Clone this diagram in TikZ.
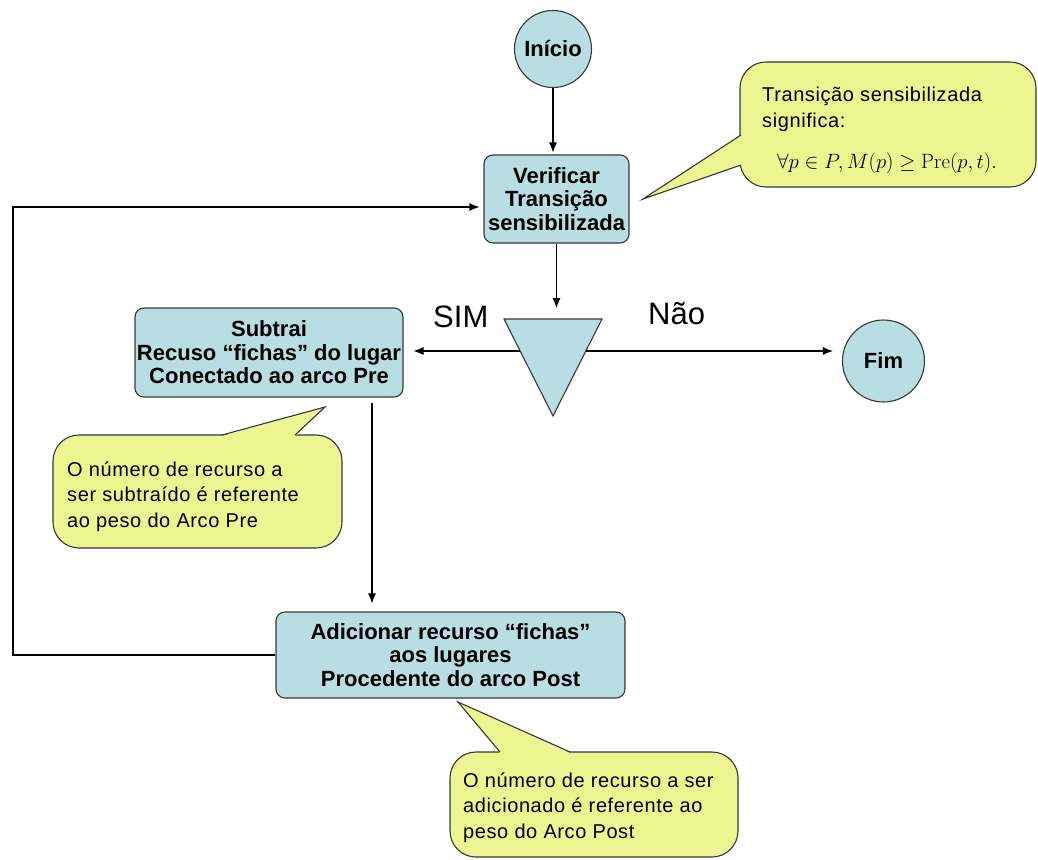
\documentclass[tikz,border=0pt]{standalone}
\usepackage[no-math]{fontspec}
\setmainfont{Liberation Sans}
\newfontfamily\notefont[LetterSpace=3]{Liberation Sans}
\usetikzlibrary{arrows.meta}
\definecolor{boxfill}{RGB}{184,222,227}
\definecolor{notefill}{RGB}{236,245,144}
\definecolor{edge}{RGB}{55,55,55}
\begin{document}
\begin{tikzpicture}[x=1pt,y=-1pt,
  flow/.style={draw=edge, line width=1.1pt, fill=boxfill},
  stepbox/.style={flow, rounded corners=9pt, align=center, inner sep=0pt,
    font=\fontsize{22}{23.5}\selectfont\bfseries},
  endpoint/.style={flow, circle, inner sep=0pt, font=\fontsize{22}{24}\selectfont\bfseries},
  link/.style={draw=black, line width=1.1pt, -{Latex[length=10pt,width=8pt]}},
  note/.style={draw=edge, line width=1.1pt, fill=notefill, rounded corners=26pt},
  noteedge/.style={draw=edge, line width=1.1pt, line join=miter},
  notetext/.style={anchor=base west, align=left, inner sep=0pt,
    font=\notefont\fontsize{20}{25.5}\selectfont},
  answer/.style={anchor=base west, inner sep=0pt, font=\fontsize{31}{31}\selectfont}
]
\useasboundingbox (0,0) rectangle (1038,859);

% callout shapes (drawn first, below the flow)
\draw[note] (740,62) rectangle (1036,187);
\fill[notefill] (741,135) -- (643,199) -- (741,165) -- (748,165) -- (748,135) -- cycle;
\draw[noteedge] (741,135) -- (643,199) -- (741,165);

\draw[note] (53,435) rectangle (342,548);
\fill[notefill] (222,436) -- (325,407) -- (295,436) -- (295,442) -- (222,442) -- cycle;
\draw[noteedge] (222,435) -- (325,407) -- (295,435);

\draw[note] (450,752) rectangle (738,857);
\fill[notefill] (500,753) -- (458,702) -- (570,753) -- (570,759) -- (500,759) -- cycle;
\draw[noteedge] (500,752) -- (458,702) -- (570,752);

% flow elements
\node[endpoint, minimum size=77pt] (inicio) at (553,49) {Início};
\node[stepbox, minimum width=145pt, minimum height=88pt] (verif) at (556.5,199)
  {Verificar\\Transição\\sensibilizada};
\node[stepbox, minimum width=268pt, minimum height=89pt] (sub) at (269,352.5)
  {Subtrai\\Recuso “fichas” do lugar\\Conectado ao arco Pre};
\node[stepbox, minimum width=349pt, minimum height=86pt] (add) at (450.5,655)
  {Adicionar recurso “fichas”\\aos lugares\\Procedente do arco Post};
\node[endpoint, minimum size=82pt] (fim) at (883.5,361) {Fim};

% decision triangle
\coordinate (triA) at (504,319);
\coordinate (triB) at (602,319);
\coordinate (triC) at (553,416);
\coordinate (triT) at (556,319);
\coordinate (triL) at (520,351);
\coordinate (triR) at (586,351);
\draw[flow, line join=miter] (triA) -- (triB) -- (triC) -- cycle;

% connectors
\coordinate (drop) at (372,0);
\coordinate (loop) at (13,207);
\draw[link, shorten >=2pt] (inicio.south) -- (inicio.south |- verif.north);
\draw[link, shorten >=11pt] (verif.south) -- (verif.south |- triT);
\draw[link, shorten >=10pt] (triL) -- (triL -| sub.east);
\draw[link, shorten >=9pt] (triR) -- (triR -| fim.west);
\draw[link, shorten <=5pt, shorten >=8pt] (sub.south -| drop) -- (add.north -| drop);
\draw[link, shorten >=4pt] (add.west) -- (add.west -| loop) -- (loop) -- (loop -| verif.west);

% labels
\node[answer] (sim) at (433,327) {SIM};
\node[answer] (nao) at (648,324) {Não};

% callout texts (anchored at the baseline of their last line)
\node[notetext] (t1) at (762,127) {Transição sensibilizada\\significa:};
\node[anchor=base, inner sep=0pt, font=\fontsize{21.5}{21.5}\selectfont] (t1f) at (887,168)
  {$\forall p\in P, M(p)\geq \mathrm{Pre}(p,t).$};
\node[notetext] (t2) at (67,527)
  {O número de recurso a\\ser subtraído é referente\\ao peso do Arco Pre};
\node[notetext] (t3) at (463,838)
  {O número de recurso a ser\\adicionado é referente ao\\peso do Arco Post};
\end{tikzpicture}
\end{document}
